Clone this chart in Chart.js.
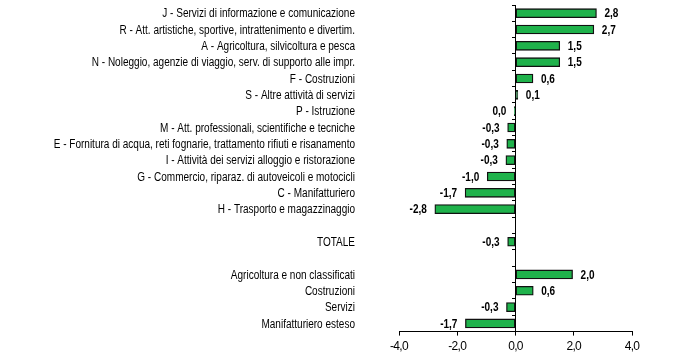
<!DOCTYPE html>
<html>
<head>
<meta charset="utf-8">
<script src="https://cdn.jsdelivr.net/npm/chart.js@4"></script>
<style>
  html, body { margin: 0; padding: 0; background: #fff; }
  #wrap { width: 700px; height: 362px; }
</style>
</head>
<body>
<div id="wrap"><canvas id="grafico"></canvas></div>
<script>
// categorie (righe vuote = separatori)
const categorie = [
  "J - Servizi di informazione e comunicazione",
  "R - Att. artistiche, sportive, intrattenimento e divertim.",
  "A - Agricoltura, silvicoltura e pesca",
  "N - Noleggio, agenzie di viaggio, serv. di supporto alle impr.",
  "F - Costruzioni",
  "S - Altre attività di servizi",
  "P - Istruzione",
  "M - Att. professionali, scientifiche e tecniche",
  "E - Fornitura di acqua, reti fognarie, trattamento rifiuti e risanamento",
  "I - Attività dei servizi alloggio e ristorazione",
  "G - Commercio, riparaz. di autoveicoli e motocicli",
  "C - Manifatturiero",
  "H - Trasporto e magazzinaggio",
  "",
  "TOTALE",
  "",
  "Agricoltura e non classificati",
  "Costruzioni",
  "Servizi",
  "Manifatturiero esteso"
];
// variazioni
const valori = [2.78, 2.69, 1.52, 1.52, 0.6, 0.08, -0.04, -0.27, -0.3, -0.33, -0.97, -1.73, -2.77,
  null, -0.27, null, 1.96, 0.61, -0.31, -1.72];
const tickX = [-4, -2, 0, 2, 4];

const verde = "#1fb24b";
const font = "'Liberation Sans', Arial, sans-serif";
const stretto = 0.835; // simula un carattere "narrow"

const formatta = v => (Math.abs(v) < 0.05 ? 0 : v).toFixed(1).replace(".", ",");

// testo compresso orizzontalmente
function testo(ctx, s, x, y, align) {
  ctx.save();
  ctx.textAlign = align;
  ctx.translate(x, y);
  ctx.scale(stretto, 1);
  ctx.fillText(s, 0, 0);
  ctx.restore();
}

const etichette = {
  id: "etichette",
  beforeDraw(chart) {
    chart.ctx.letterSpacing = "-0.7px";
  },
  afterDraw(chart) {
    const ctx = chart.ctx;
    const sy = chart.scales.y;
    const meta = chart.getDatasetMeta(0);
    ctx.save();
    ctx.letterSpacing = "0px";
    ctx.fillStyle = "#000";
    ctx.textBaseline = "middle";
    // nomi delle categorie
    ctx.font = "12px " + font;
    categorie.forEach((c, i) => {
      if (c) testo(ctx, c, 355, sy.getPixelForValue(i) + 1, "right");
    });
    // valori
    ctx.font = "bold 12px " + font;
    meta.data.forEach((bar, i) => {
      const v = valori[i];
      if (v === null) return;
      if (v >= 0) testo(ctx, formatta(v), bar.x + 8, bar.y + 1, "left");
      else testo(ctx, formatta(v), bar.x - 8, bar.y + 1, "right");
    });
    ctx.restore();
  }
};

new Chart(document.getElementById("grafico"), {
  type: "bar",
  data: {
    labels: categorie,
    datasets: [{
      data: valori,
      backgroundColor: verde,
      borderColor: "#111",
      borderWidth: 1.3,
      borderSkipped: false,
      barThickness: 9
    }]
  },
  options: {
    indexAxis: "y",
    responsive: true,
    maintainAspectRatio: false,
    animation: false,
    layout: { padding: { top: 5, right: 68, bottom: 4, left: 399 } },
    plugins: { legend: { display: false }, tooltip: { enabled: false } },
    scales: {
      x: {
        min: -4,
        max: 4,
        afterBuildTicks: s => { s.ticks = tickX.map(v => ({ value: v })); },
        ticks: {
          callback: v => v.toFixed(1).replace(".", ","),
          color: "#000",
          font: { family: font, size: 12 },
          padding: 4
        },
        grid: { drawOnChartArea: false, tickLength: 4, color: "#000" },
        border: { color: "#000", width: 1 }
      },
      y: {
        position: { x: 0 },
        ticks: { display: false },
        grid: { drawOnChartArea: false, tickLength: 3, color: "#000", offset: true },
        border: { color: "#000", width: 1 }
      }
    }
  },
  plugins: [etichette]
});
</script>
</body>
</html>
